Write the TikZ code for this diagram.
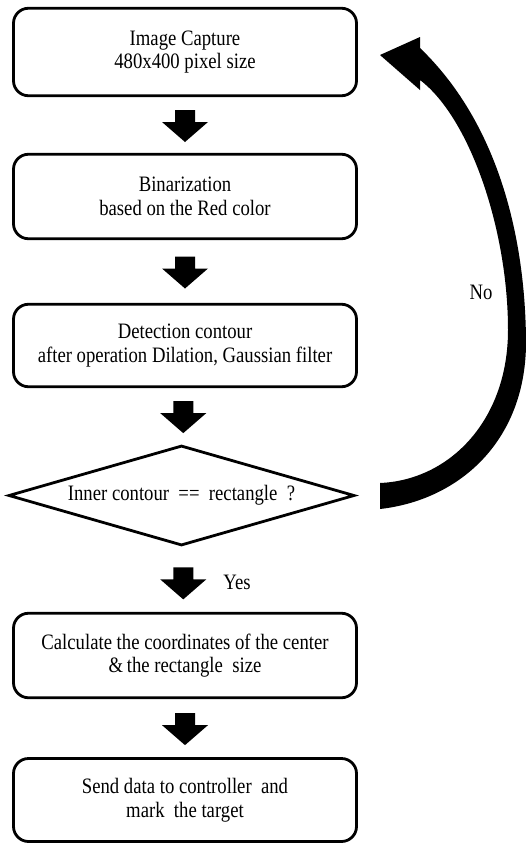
\documentclass[tikz,border=0pt]{standalone}
\usepackage{fontspec}
\setmainfont{Liberation Serif}[FakeStretch=0.85]
\usetikzlibrary{shapes.geometric,calc}
\newcommand\fatarrow[3][0pt]{%
  \fill let \p1=($(#2)!0.5!(#3)$) in
   (\x1-10pt,\y1+15pt-#1) -- (\x1+10pt,\y1+15pt-#1) -- (\x1+10pt,\y1+3pt-#1) -- (\x1+23pt,\y1+3pt-#1)
   -- (\x1,\y1-17pt-#1) -- (\x1-23pt,\y1+3pt-#1) -- (\x1-10pt,\y1+3pt-#1) -- cycle;}
\begin{document}
\begin{tikzpicture}[x=1pt,y=-1pt,
  txt/.style={font=\fontsize{22}{23.5}\selectfont},
  box/.style={txt,draw,line width=2.8pt,rounded corners=15pt,minimum width=343pt,align=center,inner sep=0pt},
  decision/.style={txt,draw,line width=2.8pt,diamond,minimum width=346pt,minimum height=100pt,inner sep=0pt},
  lbl/.style={txt,inner sep=0pt}]
\useasboundingbox (0,0) rectangle (526,844);
\node[box,minimum height=87.5pt] (b1) at (185,52) {Image Capture\\480x400 pixel size};
\node[box,minimum height=84.5pt] (b2) at (185,196.5) {Binarization\\based on the Red color};
\node[box,minimum height=82.5pt] (b3) at (185,345.5) {Detection contour\\after operation Dilation,\ Gaussian filter};
\node[decision] (d) at (181.5,495.5) {\makebox[0pt]{Inner contour\ \ ==\ \ rectangle\ \ ?}};
\node[box,minimum height=84.5pt] (b5) at (185,655.5) {Calculate the coordinates of the center\\\&\,the rectangle\ \ size};
\node[box,minimum height=83pt] (b6) at (185,800) {Send data to controller\ \ and\\mark\ \ the target};
\fatarrow{b1.south}{b2.north}
\fatarrow{b2.south}{b3.north}
\fatarrow{b3.south}{d.north}
\fatarrow[3pt]{d.south}{b5.north}
\fatarrow{b5.south}{b6.north}
\node[lbl] (yes) at (237,582) {Yes};
\node[lbl] (no) at (481,292) {No};
% curved return arrow (No)
\fill (380,483) -- (380,509) .. controls (460,500) and (527,440) .. (526,340)
  .. controls (525,230) and (495,120) .. (420,48) -- (420,37) -- (380,55) -- (420,90) -- (420,80)
  .. controls (470,118) and (508,230) .. (508,330)
  .. controls (508,420) and (450,480) .. (380,483) -- cycle;
\end{tikzpicture}
\end{document}
